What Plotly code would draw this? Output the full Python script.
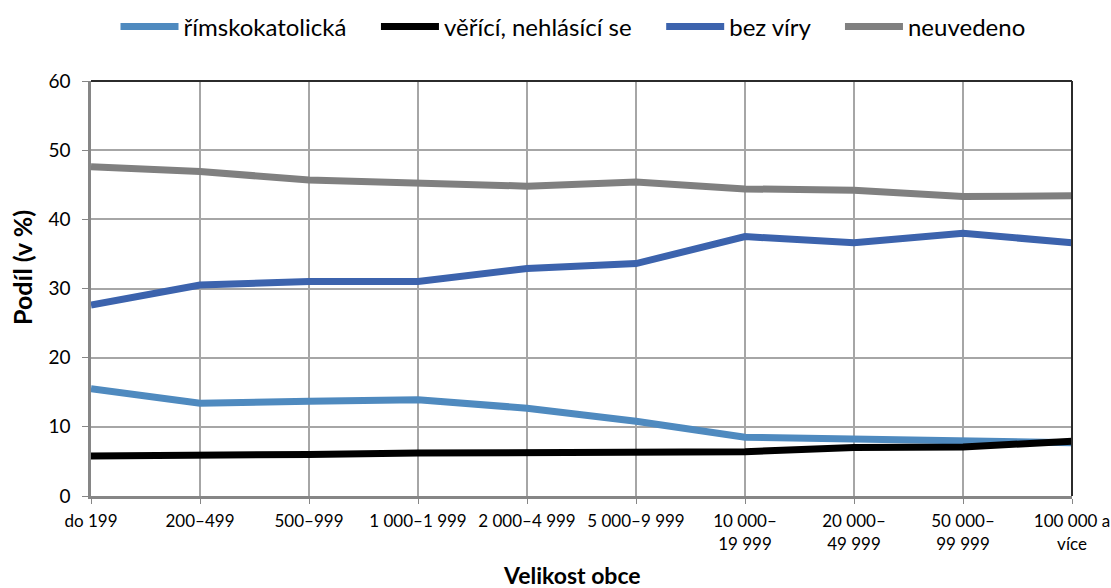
import plotly.graph_objects as go

categories = ["do 199", "200–499", "500–999", "1 000–1 999", "2 000–4 999",
              "5 000–9 999", "10 000–<br>19 999", "20 000–<br>49 999",
              "50 000–<br>99 999", "100 000 a<br>více"]

rimskokatolicka = [15.5, 13.4, 13.7, 13.9, 12.7, 10.8, 8.5, 8.3, 8.0, 7.7]
verici_nehlasici = [5.8, 5.8, 6.0, 6.2, 6.3, 6.5, 6.4, 7.0, 7.1, 7.9]
bez_viry = [27.6, 30.5, 31.0, 31.0, 32.9, 33.6, 37.5, 36.6, 38.0, 36.6]
neuvedeno = [47.6, 46.9, 45.7, 45.3, 44.8, 45.4, 44.4, 44.2, 43.3, 43.4]

series = [
    ("římskokatolická", rimskokatolicka, "#4f8abf"),
    ("věřící, nehlásící se", verici_nehlasici, "#000000"),
    ("bez víry", bez_viry, "#3c63ad"),
    ("neuvedeno", neuvedeno, "#808080"),
]

FONT = "Lato"
PAD = "\u00a0" * 4

fig = go.Figure()
for name, vals, col in series:
    fig.add_trace(go.Scatter(
        x=list(range(len(categories))), y=vals, name=name + PAD, mode="lines",
        line=dict(color=col, width=7),
    ))

fig.update_layout(
    width=1111, height=588,
    margin=dict(l=91, r=39, t=81, b=92, autoexpand=False),
    paper_bgcolor="white", plot_bgcolor="white",
    font=dict(family=FONT, color="#000000"),
    showlegend=True,
    legend=dict(orientation="h", x=0.5 + 4 / 981, xanchor="center",
                y=1 - 27 / 588, yanchor="middle", yref="container", itemwidth=58,
                font=dict(size=24, family=FONT), traceorder="normal",
                bgcolor="rgba(0,0,0,0)"),
    xaxis=dict(
        range=[0, len(categories) - 1], tickmode="array",
        tickvals=list(range(len(categories))), ticktext=categories,
        showgrid=True, gridcolor="#a6a6a6", gridwidth=1.5,
        showline=True, linecolor="#868686", linewidth=3,
        ticks="outside", ticklen=5, tickcolor="#868686", tickwidth=1,
        tickfont=dict(size=17, family=FONT), ticklabelstandoff=3,
        tickangle=0, zeroline=False, automargin=False,
    ),
    yaxis=dict(
        range=[0, 60], tickmode="array", tickvals=[0, 10, 20, 30, 40, 50, 60],
        showgrid=True, gridcolor="#a6a6a6", gridwidth=1.5,
        showline=True, linecolor="#868686", linewidth=2.5,
        ticks="outside", ticklen=6, tickcolor="#868686", tickwidth=1,
        tickfont=dict(size=19, family=FONT), zeroline=False, automargin=False,
        ticklabelstandoff=8,
    ),
)

fig.add_annotation(text="<b>Velikost obce</b>", xref="paper", yref="paper",
                   x=0.5 - 10 / 981, y=-(575 - 496) / 415, xanchor="center",
                   yanchor="middle", showarrow=False,
                   font=dict(size=23, family=FONT))
fig.add_annotation(text="<b>Podíl (v %)</b>", xref="paper", yref="paper",
                   x=-(91 - 22) / 981, y=(496 - 268) / 415, xanchor="center",
                   yanchor="middle", showarrow=False, textangle=-90,
                   font=dict(size=25, family=FONT))

# dark plot-area border on top and right
fig.add_shape(type="line", xref="paper", yref="paper", x0=0, x1=1, y0=1, y1=1,
              line=dict(color="#2b2b2b", width=2), layer="above")
fig.add_shape(type="line", xref="paper", yref="paper", x0=1, x1=1, y0=0, y1=1,
              line=dict(color="#2b2b2b", width=2), layer="above")

fig.write_html("out.html", config={"displayModeBar": False})

# remove the browser's default page margin so the figure fills the window
with open("out.html", "r", encoding="utf-8") as f:
    html = f.read()
html = html.replace("<head>", "<head><style>html,body{margin:0;padding:0;overflow:hidden;}</style>", 1)
with open("out.html", "w", encoding="utf-8") as f:
    f.write(html)
